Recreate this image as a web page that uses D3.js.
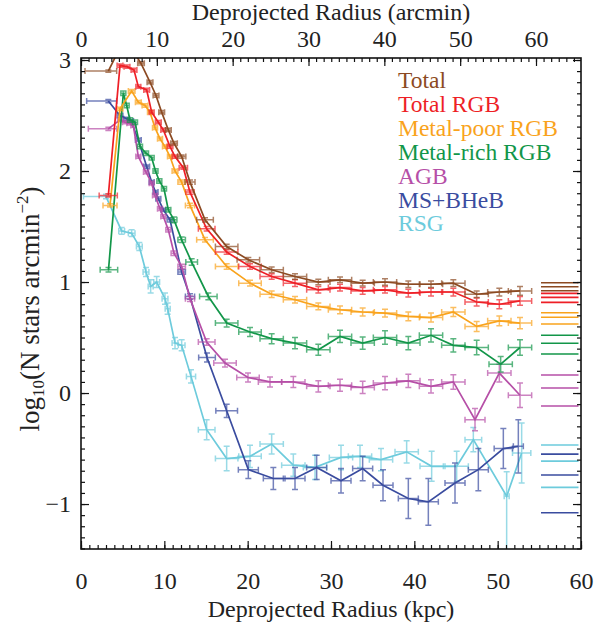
<!DOCTYPE html>
<html>
<head>
<meta charset="utf-8">
<script src="https://cdn.jsdelivr.net/npm/d3@7"></script>
<style>
  body { margin: 0; background: #fff; }
  svg text { font-family: "Liberation Serif", "DejaVu Serif", serif; }
</style>
</head>
<body>
<svg width="602" height="625"></svg>
<script>
const names = ["Total", "Total RGB", "Metal-poor RGB", "Metal-rich RGB", "AGB", "MS+BHeB", "RSG"]
const colors = ["#8c4a22", "#ee1f26", "#f9a31c", "#129649", "#b64fa7", "#3a4c9f", "#6dcbdc"]

// each point: [radius kpc, log10 N, x error, y error]; an error written [lo, hi] is asymmetric
const total = [
  [3.28, 2.90, [2.8, 1.0], 0.01], [5.0, 3.16, 0.4, 0.01], [5.9, 3.12, 0.4, 0.01], [7.2, 2.97, 0.4, 0.015],
  [8.28, 2.80, 0.35, 0.015], [9.0, 2.68, 0.35, 0.015], [9.68, 2.53, 0.35, 0.015], [10.48, 2.37, 0.35, 0.015],
  [11.16, 2.25, 0.4, 0.015], [12.08, 2.13, 0.5, 0.015], [13.08, 1.90, 0.6, 0.02], [14.88, 1.56, 1.0, 0.02],
  [17.48, 1.32, 1.35, 0.02], [20.08, 1.20, 1.35, 0.02], [22.88, 1.11, 1.4, 0.025], [25.68, 1.05, 1.4, 0.025],
  [28.48, 1.00, 1.4, 0.025], [31.08, 1.02, 1.4, 0.025], [33.8, 0.99, 1.4, 0.025], [36.48, 1.00, 1.4, 0.03],
  [39.28, 0.98, 1.4, 0.03], [42.0, 0.98, 1.4, 0.03], [44.68, 0.99, 1.4, 0.03], [47.48, 0.89, 1.4, 0.03],
  [50.2, 0.91, 1.4, 0.035], [52.68, 0.92, 1.4, 0.04]
]
const totalRgb = [
  [3.28, 1.78, [1.1, 1.08], 0.015], [4.68, 2.95, 0.35, 0.015], [5.52, 2.94, 0.35, 0.015], [6.36, 2.91, 0.35, 0.015],
  [6.88, 2.76, 0.3, 0.015], [7.88, 2.73, 0.35, 0.015], [8.48, 2.53, 0.3, 0.015], [9.28, 2.44, 0.35, 0.015],
  [9.88, 2.37, 0.3, 0.015], [10.68, 2.22, 0.35, 0.015], [11.28, 2.13, 0.35, 0.015], [12.28, 2.03, 0.5, 0.015],
  [13.08, 1.81, 0.5, 0.02], [15.08, 1.48, 1.0, 0.02], [17.48, 1.27, 1.35, 0.02], [20.28, 1.14, 1.35, 0.025],
  [22.88, 1.05, 1.4, 0.025], [25.68, 0.99, 1.4, 0.03], [28.48, 0.93, 1.4, 0.03], [31.08, 0.95, 1.4, 0.03],
  [33.8, 0.92, 1.4, 0.03], [36.48, 0.93, 1.4, 0.03], [39.28, 0.90, 1.4, 0.035], [42.0, 0.91, 1.4, 0.035],
  [44.68, 0.91, 1.4, 0.035], [47.48, 0.82, 1.4, 0.035], [50.2, 0.80, 1.4, 0.04], [52.68, 0.83, 1.4, 0.04]
]
const metalPoor = [
  [3.48, 1.69, 0.84, 0.015], [4.68, 2.56, 0.35, 0.015], [6.08, 2.72, 0.4, 0.015], [6.88, 2.62, 0.35, 0.015],
  [7.68, 2.59, 0.35, 0.015], [8.28, 2.53, 0.3, 0.015], [8.88, 2.39, 0.3, 0.015], [9.48, 2.29, 0.3, 0.015],
  [10.08, 2.22, 0.3, 0.015], [10.68, 2.13, 0.3, 0.015], [11.28, 2.00, 0.35, 0.015], [12.08, 1.90, 0.45, 0.02],
  [13.08, 1.69, 0.55, 0.02], [14.88, 1.38, 1.0, 0.02], [17.48, 1.14, 1.35, 0.025], [20.28, 0.99, 1.35, 0.025],
  [22.88, 0.89, 1.4, 0.03], [25.68, 0.84, 1.4, 0.03], [28.48, 0.78, 1.4, 0.03], [31.08, 0.75, 1.4, 0.035],
  [33.8, 0.73, 1.4, 0.035], [36.48, 0.72, 1.4, 0.035], [39.28, 0.69, 1.4, 0.04], [42.0, 0.68, 1.4, 0.04],
  [44.68, 0.73, 1.4, 0.04], [47.48, 0.60, 1.4, 0.045], [50.2, 0.65, 1.4, 0.045], [52.68, 0.63, 1.4, 0.05]
]
const metalRich = [
  [3.3, 1.11, [1.0, 1.1], 0.02], [5.08, 2.70, 0.3, 0.02], [5.48, 2.59, 0.3, 0.02], [5.88, 2.46, 0.3, 0.02],
  [6.48, 2.44, 0.3, 0.02], [7.08, 2.22, 0.3, 0.02], [7.8, 2.16, 0.3, 0.02], [8.48, 2.12, 0.3, 0.02],
  [8.94, 2.00, 0.3, 0.02], [9.4, 1.91, 0.3, 0.02], [9.96, 1.84, 0.3, 0.02], [10.48, 1.65, 0.3, 0.02],
  [11.16, 1.56, 0.35, 0.025], [12.08, 1.38, 0.45, 0.025], [13.28, 1.18, 0.7, 0.03], [15.28, 0.87, 1.05, 0.03],
  [17.48, 0.63, 1.35, 0.035], [20.28, 0.55, 1.35, 0.04], [22.88, 0.49, 1.4, 0.045], [25.68, 0.45, 1.4, 0.05],
  [28.48, 0.39, 1.4, 0.05], [31.08, 0.51, 1.4, 0.055], [33.8, 0.45, 1.4, 0.055], [36.48, 0.50, 1.4, 0.06],
  [39.28, 0.45, 1.4, 0.06], [42.0, 0.52, 1.4, 0.06], [44.68, 0.43, 1.4, 0.06], [47.48, 0.41, 1.4, 0.065],
  [50.36, 0.26, 1.4, 0.07], [52.68, 0.41, 1.4, 0.07]
]
const agb = [
  [3.28, 2.38, [2.4, 1.0], 0.015], [4.68, 2.46, 0.3, 0.015], [5.28, 2.44, 0.3, 0.015], [5.8, 2.43, 0.3, 0.015],
  [6.28, 2.41, 0.3, 0.015], [6.88, 2.13, 0.3, 0.015], [7.8, 1.99, 0.3, 0.015], [8.48, 1.89, 0.3, 0.015],
  [8.88, 1.78, 0.3, 0.015], [9.48, 1.66, 0.3, 0.015], [9.88, 1.59, 0.3, 0.015], [10.48, 1.47, 0.3, 0.02],
  [11.16, 1.26, 0.35, 0.02], [12.08, 1.14, 0.45, 0.02], [13.08, 0.85, 0.55, 0.025], [15.08, 0.46, 1.0, 0.03],
  [17.28, 0.27, 1.35, 0.035], [20.04, 0.14, 1.35, 0.04], [22.68, 0.10, 1.4, 0.045], [25.48, 0.10, 1.4, 0.05],
  [28.48, 0.06, 1.4, 0.05], [31.08, 0.07, 1.4, 0.055], [33.8, 0.05, 1.4, 0.055], [36.48, 0.09, 1.4, 0.06],
  [39.28, 0.11, 1.4, 0.06], [42.0, 0.06, 1.4, 0.06], [44.68, 0.10, 1.4, 0.065], [47.28, -0.24, 1.2, 0.1],
  [50.2, 0.18, 1.4, 0.08], [52.68, -0.02, 1.4, 0.11]
]
const msBheb = [
  [3.28, 2.63, [2.6, 1.0], 0.015], [4.68, 2.50, 0.35, 0.015], [5.48, 2.47, 0.35, 0.015], [6.0, 2.45, 0.3, 0.015],
  [6.88, 2.28, 0.35, 0.015], [7.88, 2.04, 0.35, 0.015], [8.48, 1.90, 0.3, 0.015], [8.94, 1.81, 0.3, 0.015],
  [9.28, 1.75, 0.3, 0.015], [9.88, 1.65, 0.3, 0.015], [10.68, 1.56, 0.35, 0.02], [12.08, 1.09, 0.45, 0.02],
  [13.08, 0.87, 0.55, 0.025], [15.12, 0.32, 1.0, 0.04], [17.48, -0.16, 1.3, 0.06], [20.08, -0.69, 1.2, 0.08],
  [23.08, -0.77, 1.2, 0.1], [25.68, -0.77, 1.2, 0.1], [28.28, -0.67, 1.2, 0.11], [31.2, -0.79, 1.2, 0.11],
  [33.8, -0.68, 1.2, 0.11], [36.24, -0.83, 1.2, 0.14], [39.28, -0.95, 1.2, 0.18], [41.68, -0.98, 1.2, 0.21],
  [44.88, -0.81, 1.2, 0.18], [47.68, -0.69, 1.2, 0.19], [50.68, -0.50, 1.1, 0.18], [52.48, -0.48, 0.6, 0.24]
]
const rsg = [
  [3.0, 1.77, [2.7, 0.6], 0.02], [4.88, 1.46, 0.35, 0.03], [6.08, 1.44, 0.4, 0.03], [7.0, 1.32, 0.35, 0.035],
  [7.8, 1.09, 0.35, 0.04], [8.36, 0.96, 0.3, 0.06], [9.08, 1.00, 0.35, 0.05], [10.08, 0.85, 0.35, 0.05],
  [10.4, 0.76, 0.3, 0.05], [11.28, 0.45, 0.35, 0.05], [12.08, 0.43, 0.4, 0.05], [13.2, 0.15, 0.55, 0.06],
  [15.08, -0.33, 1.0, 0.09], [17.48, -0.59, 1.35, 0.11], [20.28, -0.57, 1.35, 0.1], [22.88, -0.46, 1.4, 0.09],
  [25.48, -0.65, 1.4, 0.1], [28.08, -0.67, 1.4, 0.11], [31.2, -0.58, 1.4, 0.11], [33.48, -0.57, 1.4, 0.1],
  [36.0, -0.60, 1.4, 0.1], [39.08, -0.53, 1.4, 0.1], [42.08, -0.66, 1.4, 0.135], [45.08, -0.66, 1.4, 0.135],
  [47.08, -0.42, 1.0, 0.11], [51.08, -0.93, 0.3, [0.6, 0.22]], [52.88, -0.54, 1.1, 0.27]
]
const series = [total, totalRgb, metalPoor, metalRich, agb, msBheb, rsg]

// background levels (lower / mid / upper) drawn as short lines at the right
const background = [
  [0.994, 0.958, 0.922], [0.898, 0.862, 0.817], [0.723, 0.682, 0.622], [0.52, 0.448, 0.351],
  [0.162, 0.045, -0.117], [-0.55, -0.739, -1.078], [-0.468, -0.613, -0.85]
]
const backgroundRange = [55.2, 59.7]

const kpcPerArcmin = 0.91
const xTicks = [0, 10, 20, 30, 40, 50, 60]
const arcminTicks = [0, 10, 20, 30, 40, 50, 60]
const yTicks = [-1, 0, 1, 2, 3]

const serif = "'Liberation Serif', 'DejaVu Serif', serif"
let plotLeft = 81, plotRight = 581, plotTop = 58, plotBottom = 549

let svg = d3.select("svg")

let x = d3.scaleLinear().domain([0, 60]).range([plotLeft, plotRight])
let xArc = d3.scaleLinear().domain([0, 60 / kpcPerArcmin]).range([plotLeft, plotRight])
let y = d3.scaleLinear().domain([-1.405, 3.018]).range([plotBottom, plotTop])

svg.append("defs").append("clipPath").attr("id", "plot")
  .append("rect").attr("x", plotLeft).attr("y", plotTop)
  .attr("width", plotRight - plotLeft).attr("height", plotBottom - plotTop)

const err = e => Array.isArray(e) ? e : [e, e]
const cap = 3

const drawSeries = () => {
  let plot = svg.append("g").attr("clip-path", "url(#plot)")
  let line = d3.line().x(d => x(d[0])).y(d => y(d[1]))

  for (let i = series.length - 1; i >= 0; i--) {
    let g = plot.append("g")
    g.selectAll("path.err")
      .data(series[i])
      .join("path")
      .attr("class", "err")
      .attr("fill", "none")
      .attr("stroke", colors[i])
      .attr("stroke-opacity", 0.7)
      .attr("stroke-width", 1.5)
      .attr("d", d => {
        let [xl, xh] = err(d[2]), [yl, yh] = err(d[3])
        let cx = x(d[0]), cy = y(d[1])
        let x0 = x(d[0] - xl), x1 = x(d[0] + xh), y0 = y(d[1] - yl), y1 = y(d[1] + yh)
        return `M${x0},${cy}H${x1}M${x0},${cy - cap}V${cy + cap}M${x1},${cy - cap}V${cy + cap}` +
               `M${cx},${y0}V${y1}M${cx - cap},${y0}H${cx + cap}M${cx - cap},${y1}H${cx + cap}`
      })

    g.append("path")
      .datum(series[i])
      .attr("fill", "none")
      .attr("stroke", colors[i])
      .attr("stroke-width", 1.7)
      .attr("d", line)

    g.selectAll("line.bg")
      .data(background[i])
      .join("line")
      .attr("class", "bg")
      .attr("x1", x(backgroundRange[0]))
      .attr("x2", x(backgroundRange[1]))
      .attr("y1", d => y(d))
      .attr("y2", d => y(d))
      .attr("stroke", colors[i])
      .attr("stroke-width", 1.6)
  }
}

const drawAxes = () => {
  const clean = g => { g.select(".domain").remove(); g.selectAll("line").attr("stroke", "#111").attr("stroke-width", 1.2) }
  const labels = g => g.selectAll("text").attr("font-size", 24).attr("fill", "#222")
    .attr("font-family", serif)

  svg.append("g").attr("transform", `translate(0,${plotBottom})`)
    .call(d3.axisBottom(x).tickValues(d3.range(0, 61, 1)).tickSize(-4).tickFormat(""))
    .call(clean)
  svg.append("g").attr("transform", `translate(0,${plotBottom})`)
    .call(d3.axisBottom(x).tickValues(xTicks).tickSize(-8).tickPadding(23).tickFormat(d3.format("d")))
    .call(clean).call(labels)

  svg.append("g").attr("transform", `translate(0,${plotTop})`)
    .call(d3.axisTop(xArc).tickValues(d3.range(0, 66, 1)).tickSize(-4).tickFormat(""))
    .call(clean)
  svg.append("g").attr("transform", `translate(0,${plotTop})`)
    .call(d3.axisTop(xArc).tickValues(arcminTicks).tickSize(-8).tickPadding(11).tickFormat(d3.format("d")))
    .call(clean).call(labels)

  let minorY = d3.range(-14, 31, 1).map(v => v / 10)
  svg.append("g").attr("transform", `translate(${plotLeft},0)`)
    .call(d3.axisLeft(y).tickValues(minorY).tickSize(-4).tickFormat(""))
    .call(clean)
  svg.append("g").attr("transform", `translate(${plotLeft},0)`)
    .call(d3.axisLeft(y).tickValues(yTicks).tickSize(-8).tickPadding(10).tickFormat(d3.format("d")))
    .call(clean).call(labels)
  svg.append("g").attr("transform", `translate(${plotRight},0)`)
    .call(d3.axisRight(y).tickValues(minorY).tickSize(-4).tickFormat(""))
    .call(clean)
  svg.append("g").attr("transform", `translate(${plotRight},0)`)
    .call(d3.axisRight(y).tickValues(yTicks).tickSize(-8).tickFormat(""))
    .call(clean)

  svg.append("rect")
    .attr("x", plotLeft).attr("y", plotTop)
    .attr("width", plotRight - plotLeft).attr("height", plotBottom - plotTop)
    .attr("fill", "none").attr("stroke", "#111").attr("stroke-width", 1.6)

  svg.append("text").attr("x", 331).attr("y", 617).attr("text-anchor", "middle")
    .attr("font-family", serif).attr("font-size", 24).attr("fill", "#222").text("Deprojected Radius (kpc)")
  svg.append("text").attr("x", 331).attr("y", 20).attr("text-anchor", "middle")
    .attr("font-family", serif).attr("font-size", 24).attr("fill", "#222").text("Deprojected Radius (arcmin)")

  let yl = svg.append("text").attr("transform", "translate(39,309) rotate(-90)")
    .attr("text-anchor", "middle").attr("font-family", serif).attr("font-size", 27).attr("fill", "#222")
  yl.append("tspan").text("log")
  yl.append("tspan").attr("font-size", 17).attr("dy", 5).text("10")
  yl.append("tspan").attr("dy", -5).text("(N stars arcmin")
  yl.append("tspan").attr("font-size", 17).attr("dy", -11).text("−2")
  yl.append("tspan").attr("dy", 11).text(")")
}

const legend = () => {
  svg.append("g")
    .selectAll("text")
    .data(names)
    .join("text")
    .attr("x", 398)
    .attr("y", (d, i) => 88 + i * 23.9)
    .attr("font-family", serif)
    .attr("font-size", 23.5)
    .attr("fill", (d, i) => colors[i])
    .text(d => d)
}

drawSeries()
drawAxes()
legend()
</script>
</body>
</html>
